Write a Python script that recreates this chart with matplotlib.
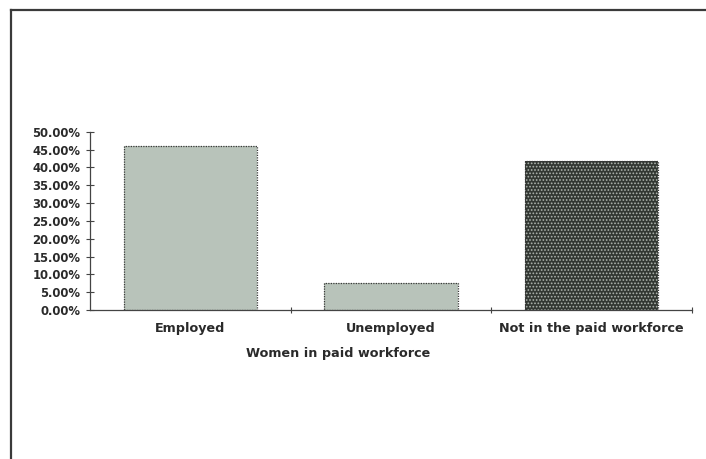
import matplotlib
matplotlib.use("Agg")
import matplotlib.pyplot as plt
from matplotlib.ticker import FixedLocator, FuncFormatter
from matplotlib.lines import Line2D

# Share of women by workforce status (%)
categories = ["Employed", "Unemployed", "Not in the paid workforce"]
shares = [46.0, 7.5, 41.8]
y_ticks = [0, 5, 10, 15, 20, 25, 30, 35, 40, 45, 50]
x_title = "Women in paid workforce"

plt.rcParams["font.family"] = ["DejaVu Sans"]
plt.rcParams["font.weight"] = "bold"
plt.rcParams["hatch.linewidth"] = 0.8

text_col = "#2a2a2a"
plain_face = "#b8c3ba"
dark_face = "#323732"

fig = plt.figure(figsize=(7.06, 4.59), dpi=100)
ax = fig.add_axes([0.1275, 0.3246, 0.8527, 0.3885])

x = list(range(len(categories)))
width = 0.665

faces = [plain_face, plain_face, dark_face]
bars = ax.bar(x, shares, width=width, color=faces, edgecolor="none", zorder=2)
# fine dotted screen on the third bar
bars[2].set_hatch(".....")
bars[2].set_edgecolor("#aeb4ae")
bars[2].set_linewidth(0)
# dotted outlines on every bar
ax.bar(x, shares, width=width, facecolor="none", edgecolor="#3a3a3a",
       linewidth=0.9, linestyle=(0, (1, 1)), zorder=3)

ax.set_xlim(-0.5, len(categories) - 0.5)
ax.set_ylim(0, 50)

ax.yaxis.set_major_locator(FixedLocator(y_ticks))
ax.yaxis.set_major_formatter(FuncFormatter(lambda v, p: f"{v:.2f}%"))

ax.set_xticks(x)
ax.set_xticklabels(categories)
ax.xaxis.set_minor_locator(FixedLocator([i + 0.5 for i in x]))

for s in ["top", "right"]:
    ax.spines[s].set_visible(False)
for s in ["left", "bottom"]:
    ax.spines[s].set_color("#444444")
    ax.spines[s].set_linewidth(0.9)

ax.tick_params(axis="y", direction="inout", length=6, width=0.8, color="#444444",
               labelsize=8.4, labelcolor=text_col, pad=4)
ax.tick_params(axis="x", which="major", length=0, labelsize=9.2,
               labelcolor=text_col, pad=8.5)
ax.tick_params(axis="x", which="minor", direction="inout", length=5, width=0.8,
               color="#444444")
for lab in ax.get_xticklabels() + ax.get_yticklabels():
    lab.set_fontweight("bold")

ax.set_xlabel(x_title, fontsize=9.2, fontweight="bold", color=text_col,
              labelpad=8.5, x=0.412)

# page frame
fig.add_artist(Line2D([11 / 706, 1.0], [1 - 10 / 459, 1 - 10 / 459],
                      transform=fig.transFigure, color="#3a3a3a", linewidth=1.6))
fig.add_artist(Line2D([11 / 706, 11 / 706], [1 - 10 / 459, 0.0],
                      transform=fig.transFigure, color="#3a3a3a", linewidth=1.6))

fig.savefig("out.png", dpi=100)
